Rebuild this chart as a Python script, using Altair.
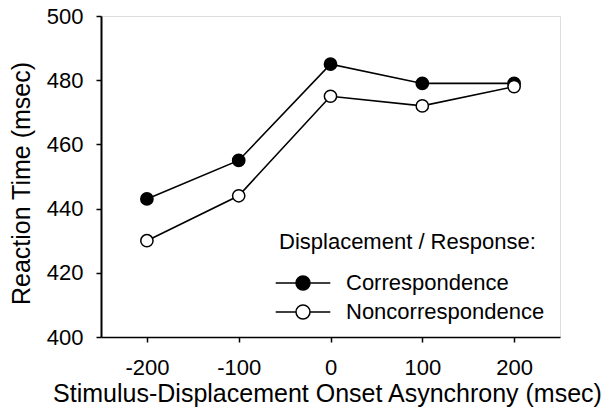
import altair as alt
import pandas as pd

soa = [-200, -100, 0, 100, 200]
correspondence = [443, 455, 485, 479, 479]
noncorrespondence = [430, 444, 475, 472, 478]
series = ["Correspondence", "Noncorrespondence"]
x_ticks = [-200, -100, 0, 100, 200]
y_ticks = [400, 420, 440, 460, 480, 500]

df = pd.DataFrame({
    "soa": soa * 2,
    "rt": correspondence + noncorrespondence,
    "cond": [series[0]] * len(soa) + [series[1]] * len(soa),
})

FONT = "Liberation Sans"

x = alt.X("soa:Q",
          scale=alt.Scale(domain=[-250, 250], nice=False, zero=False),
          axis=alt.Axis(values=x_ticks, title="Stimulus-Displacement Onset Asynchrony (msec)",
                        labelExpr="replace(datum.label, '\u2212', '-')",
                        grid=False, domainColor="black", domainWidth=1.5,
                        tickColor="black", tickWidth=1.5, tickSize=5,
                        labelFontSize=22, labelColor="black", labelPadding=15,
                        titleFontSize=25, titleFontWeight="normal", titleColor="black",
                        titlePadding=3, titleX=226, labelFont=FONT, titleFont=FONT,
                        labelLimit=0, titleLimit=0))
y = alt.Y("rt:Q",
          scale=alt.Scale(domain=[400, 500], nice=False, zero=False),
          axis=alt.Axis(values=y_ticks, title="Reaction Time (msec)",
                        grid=False, domainColor="black", domainWidth=2,
                        tickColor="black", tickWidth=1.5, tickSize=5,
                        labelFontSize=22, labelColor="black", labelPadding=13,
                        titleFontSize=25, titleFontWeight="normal", titleColor="black",
                        titleX=-67, titleY=167, labelFont=FONT, titleFont=FONT,
                        labelLimit=0, titleLimit=0))

lines = alt.Chart(df).mark_line(color="black", strokeWidth=1.6).encode(
    x=x, y=y, detail="cond:N")

sym = "M-3.9,0H-1M1,0H3.9M-1,0A1,1,0,1,1,1,0A1,1,0,1,1,-1,0Z"

points = alt.Chart(df).mark_circle(stroke="black", strokeWidth=1.5, size=150, opacity=1).encode(
    x=x, y=y,
    fill=alt.Fill("cond:N",
                  scale=alt.Scale(domain=series, range=["black", "white"]),
                  legend=alt.Legend(title="Displacement / Response:", orient="none",
                                    legendX=178, legendY=216,
                                    titleFontSize=22, titleFontWeight="normal", titleColor="black",
                                    titleFont=FONT, labelFont=FONT, titleLimit=0, labelLimit=0,
                                    labelFontSize=22, labelColor="black",
                                    symbolType=sym, symbolSize=196, symbolStrokeColor="black",
                                    symbolStrokeWidth=1.5, symbolOpacity=1,
                                    symbolOffset=13, labelOffset=32, rowPadding=7,
                                    titlePadding=18)))

chart = (lines + points).properties(
    width=459, height=321,
    autosize=alt.AutoSizeParams(type="none"),
    padding={"left": 93, "top": 8, "right": 45, "bottom": 70},
).configure_view(stroke="black", strokeWidth=1.5).configure(font=FONT, background="white")

chart.save("out.html", embed_options={"renderer": "svg", "actions": False})
